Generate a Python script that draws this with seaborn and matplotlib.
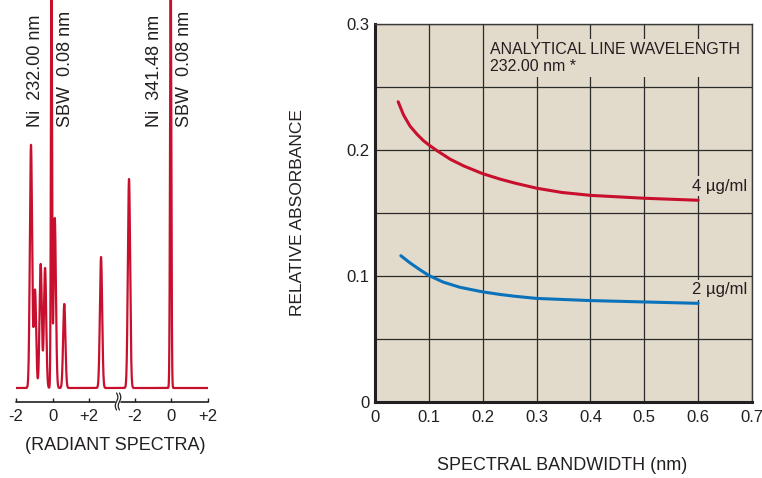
import numpy as np
import pandas as pd
import matplotlib
matplotlib.use("Agg")
import matplotlib.pyplot as plt
import seaborn as sns

# --- data ---
# right panel: relative absorbance vs spectral bandwidth
bw_4 = [0.043, 0.053, 0.065, 0.078, 0.09, 0.10, 0.115, 0.14, 0.165, 0.20, 0.233, 0.26,
        0.30, 0.347, 0.40, 0.50, 0.60]
abs_4 = [0.2383, 0.2278, 0.219, 0.2125, 0.2074, 0.204, 0.1995, 0.1926, 0.1873, 0.1812,
         0.1768, 0.1737, 0.1697, 0.1663, 0.164, 0.1617, 0.1601]
bw_2 = [0.048, 0.065, 0.084, 0.10, 0.127, 0.158, 0.20, 0.233, 0.26, 0.30, 0.40, 0.50, 0.60]
abs_2 = [0.1161, 0.1104, 0.1048, 0.1004, 0.0951, 0.091, 0.0874, 0.0853, 0.0839, 0.0822,
         0.0805, 0.0794, 0.0783]

# left panel: emission lines (position, height, width)
# second window (Ni 341.48) is shifted by 6.5 on the shared axis
seg_offset = 6.5
peak_pos = [-1.18, -0.96, -0.65, -0.41, -0.06, 0.12, 0.64, 2.65,
            -2.32 + seg_offset, -0.04 + seg_offset]
peak_h = [243, 98, 124, 120, 420, 170, 84, 131, 209, 420]
peak_w = [0.062, 0.062, 0.062, 0.062, 0.032, 0.062, 0.062, 0.062, 0.062, 0.035]
tick_pos = [-2, 0, 2, -2 + seg_offset, 0 + seg_offset, 2 + seg_offset]
tick_lab = ["-2", "0", "+2", "-2", "0", "+2"]

red = "#c8102e"
blue = "#0a72bb"
beige = "#e2dacb"
ink = "#231f20"

sns.set_style("white")
plt.rcParams["font.family"] = ["Liberation Sans", "DejaVu Sans"]

fig = plt.figure(figsize=(7.62, 4.78), dpi=100)

# ---------------- left: radiant spectra ----------------
axL = fig.add_axes([16 / 762, 1 - 402 / 478, 192 / 762, 402 / 478])
xs = np.linspace(-2.1, 8.6, 8000)
ys = np.zeros_like(xs)
for p, h, w in zip(peak_pos, peak_h, peak_w):
    ys = ys + h * np.exp(-0.5 * ((xs - p) / w) ** 2)
spec = pd.DataFrame({"x": xs, "y": ys})
sns.lineplot(data=spec, x="x", y="y", ax=axL, color=red, lw=1.6)
axL.set_xlim(-2, 8.5)
axL.set_ylim(-14, 388)
for s in axL.spines.values():
    s.set_visible(False)
axL.set_xlabel("")
axL.set_ylabel("")
axL.set_yticks([])
axL.set_xticks(tick_pos)
axL.set_xticklabels(tick_lab, fontsize=12, color=ink)
axL.tick_params(axis="x", direction="in", length=3, width=1, color=ink, pad=5, bottom=True)

# broken axis line
axL.plot([-2, 3.42], [-14, -14], color=ink, lw=1.2, clip_on=False)
axL.plot([3.74, 8.5], [-14, -14], color=ink, lw=1.2, clip_on=False)
tt = np.linspace(0, 1, 30)
for dx in (3.50, 3.66):
    axL.plot(dx + 0.07 * np.sin(2 * np.pi * tt), -5 - 17 * tt, color=ink, lw=0.9, clip_on=False)

lab_y = 388 - 127
axL.text(-0.96, lab_y, "Ni  232.00 nm", rotation=90, ha="center", va="bottom", fontsize=13, color=ink)
axL.text(0.73, lab_y, "SBW  0.08 nm", rotation=90, ha="center", va="bottom", fontsize=13, color=ink)
axL.text(5.55, lab_y, "Ni  341.48 nm", rotation=90, ha="center", va="bottom", fontsize=13, color=ink)
axL.text(7.24, lab_y, "SBW  0.08 nm", rotation=90, ha="center", va="bottom", fontsize=13, color=ink)
fig.text(115 / 762, 1 - 446 / 478, "(RADIANT SPECTRA)", ha="center", va="center", fontsize=13, color=ink)

# ---------------- right: absorbance vs bandwidth ----------------
axR = fig.add_axes([375 / 762, 1 - 402 / 478, 377 / 762, 378 / 478])
axR.set_facecolor(beige)
axR.set_xlim(0, 0.7)
axR.set_ylim(0, 0.3)
axR.set_xticks(np.arange(0, 0.71, 0.1))
axR.set_xticklabels(["0", "0.1", "0.2", "0.3", "0.4", "0.5", "0.6", "0.7"])
axR.set_yticks([0, 0.1, 0.2, 0.3])
axR.set_yticklabels(["0", "0.1", "0.2", "0.3"])
axR.set_yticks([0.05, 0.15, 0.25], minor=True)
axR.grid(True, which="both", color="#2b2b2b", lw=0.9)
axR.set_axisbelow(True)
axR.tick_params(which="both", length=0, labelsize=12, labelcolor=ink)
axR.tick_params(axis="x", pad=6)
axR.tick_params(axis="y", pad=4)
for side in ("left", "bottom"):
    axR.spines[side].set_color(ink)
    axR.spines[side].set_linewidth(2.2)
for side in ("top", "right"):
    axR.spines[side].set_color("#3a3a3a")
    axR.spines[side].set_linewidth(1.0)

d4 = pd.DataFrame({"bw": bw_4, "a": abs_4})
d2 = pd.DataFrame({"bw": bw_2, "a": abs_2})
sns.lineplot(data=d4, x="bw", y="a", ax=axR, color=red, lw=2.2, sort=False)
sns.lineplot(data=d2, x="bw", y="a", ax=axR, color=blue, lw=2.2, sort=False)
axR.set_xlabel("")
axR.set_ylabel("")

box = dict(facecolor=beige, edgecolor="none", pad=2)
axR.text(0.589, 0.1714, "4 µg/ml", ha="left", va="center", fontsize=12, color=ink, bbox=box, zorder=1)
axR.text(0.589, 0.0889, "2 µg/ml", ha="left", va="center", fontsize=12, color=ink, bbox=box, zorder=1)
axR.text(0.2135, 0.286, "ANALYTICAL LINE WAVELENGTH\n232.00 nm *", ha="left", va="top",
         fontsize=11.5, color=ink, linespacing=1.2, bbox=box, zorder=1)

fig.text(298 / 762, 1 - 213 / 478, "RELATIVE ABSORBANCE", rotation=90, ha="center", va="center",
         fontsize=12.5, color=ink)
fig.text(562 / 762, 1 - 465 / 478, "SPECTRAL BANDWIDTH (nm)", ha="center", va="center",
         fontsize=13, color=ink)

fig.savefig("out.png", dpi=100)
